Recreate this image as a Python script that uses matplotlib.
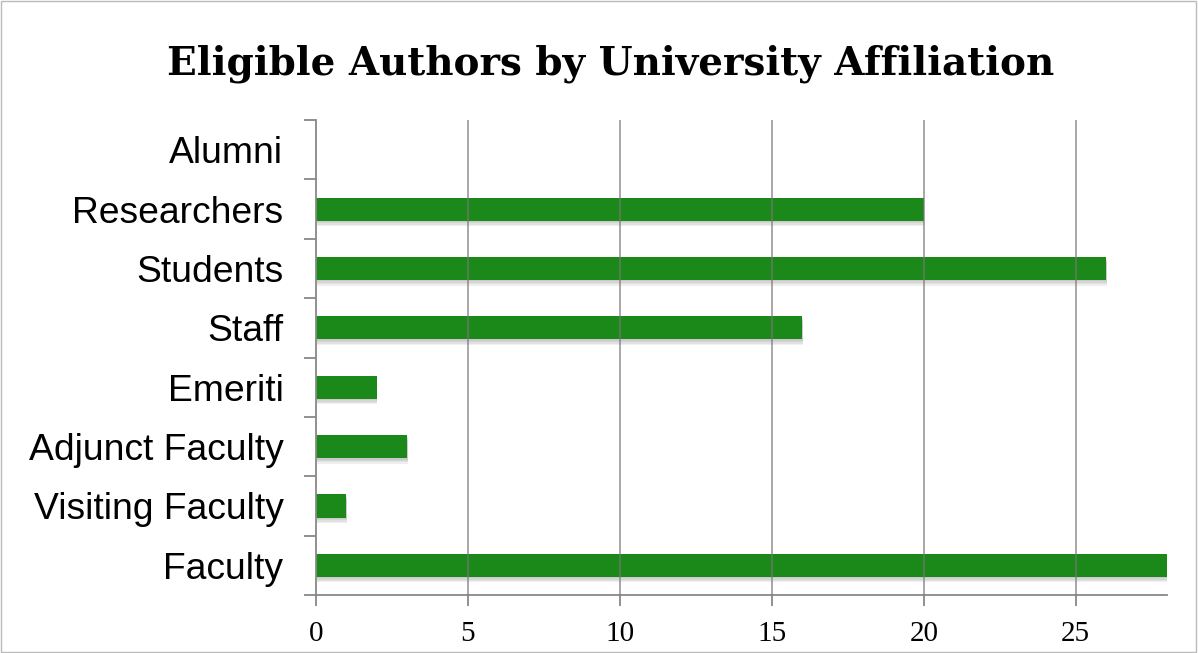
import matplotlib.pyplot as plt
import matplotlib.patheffects as pe
from matplotlib.patches import Rectangle
import numpy as np

categories = ['Faculty', 'Visiting Faculty', 'Adjunct Faculty', 'Emeriti',
              'Staff', 'Students', 'Researchers', 'Alumni']
counts = [28, 1, 3, 2, 16, 26, 20, 0]
xticks = [0, 5, 10, 15, 20, 25]
title = 'Eligible Authors by University Affiliation'


def draw():
    fig = plt.figure(figsize=(11.98, 6.53), dpi=100)
    ax = fig.add_axes([0.2638, 0.0888, 0.974 - 0.2638, 0.8162 - 0.0888])

    y = np.arange(len(categories))
    bars = ax.barh(y, counts, height=0.39, color='#1a891a', zorder=2)
    # soft drop shadow under each bar
    shadow = [pe.SimplePatchShadow(offset=(0.5, -d), shadow_rgbFace='#808080', alpha=0.12)
              for d in (1.0, 2.0, 3.0, 4.0)]
    for b in bars:
        b.set_path_effects(shadow + [pe.Normal()])

    ax.set_xlim(0, 28)
    ax.set_ylim(-0.5, len(categories) - 0.5)

    ax.set_xticks(xticks)
    ax.set_xticklabels([str(t) for t in xticks], family='Liberation Serif', fontsize=21)
    ax.set_yticks(y)
    ax.set_yticklabels(categories, family='Liberation Sans', fontsize=26.8)
    ax.set_yticks(np.arange(-0.5, len(categories)), minor=True)

    ax.tick_params(axis='y', which='major', length=0, pad=23.5)
    ax.tick_params(axis='y', which='minor', length=9, color='#888888', width=1.3)
    ax.tick_params(axis='x', length=8, color='#888888', width=1.3, pad=11)

    for t in xticks[1:]:
        ax.axvline(t, color='#777777', lw=1.2, alpha=0.75, zorder=3)

    for s in ['top', 'right']:
        ax.spines[s].set_visible(False)
    for s in ['left', 'bottom']:
        ax.spines[s].set_color('#888888')
        ax.spines[s].set_linewidth(1.3)

    fig.text(0.51, 0.903, title, ha='center', va='center',
             family='DejaVu Serif', fontweight='bold', fontsize=28)

    fig.patches.append(Rectangle((0.001, 0.001), 0.997, 0.997, transform=fig.transFigure,
                                 fill=False, edgecolor='#bbbbbb', lw=1))

    fig.savefig('out.png', dpi=100)


if __name__ == '__main__':
    draw()
